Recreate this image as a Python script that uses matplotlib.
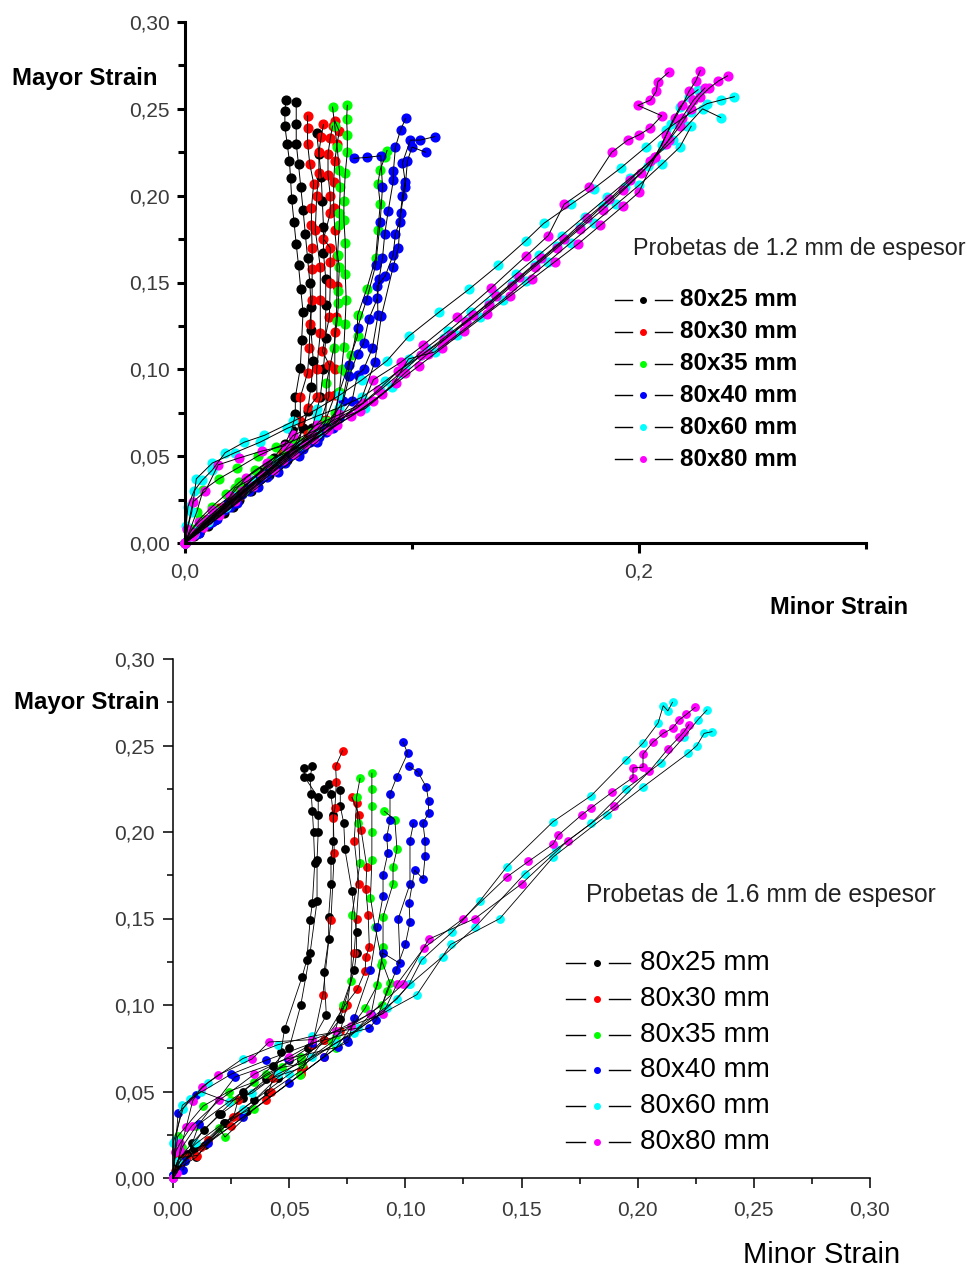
import matplotlib
matplotlib.use('Agg')
import matplotlib.pyplot as plt
from matplotlib.lines import Line2D

plt.rcParams['font.family'] = ['Liberation Sans', 'DejaVu Sans']

W, H = 967, 1269

series_labels = ['80x25 mm', '80x30 mm', '80x35 mm', '80x40 mm', '80x60 mm', '80x80 mm']
series_colors = ['#000000', '#ff0000', '#00ff00', '#0000ff', '#00ffff', '#ff00ff']

# ---------------- top panel (1.2 mm) ----------------
top_25 = [
    [(0, 0), (0.003, 0.005), (0.008, 0.011), (0.014, 0.018), (0.020, 0.025), (0.027, 0.033), (0.033, 0.041),
     (0.039, 0.049), (0.044, 0.057), (0.047, 0.065), (0.0486, 0.074), (0.0486, 0.084), (0.0508, 0.1007),
     (0.0514, 0.117), (0.052, 0.133), (0.051, 0.146), (0.050, 0.160), (0.049, 0.172), (0.048, 0.185),
     (0.047, 0.198), (0.0465, 0.210), (0.046, 0.220), (0.045, 0.230), (0.044, 0.240), (0.044, 0.249), (0.0445, 0.255)],
    [(0, 0), (0.004, 0.004), (0.010, 0.010), (0.017, 0.017), (0.024, 0.025), (0.031, 0.033), (0.038, 0.042),
     (0.044, 0.050), (0.049, 0.058), (0.052, 0.066), (0.054, 0.076), (0.0555, 0.090), (0.0565, 0.105),
     (0.0555, 0.1226), (0.0555, 0.136), (0.055, 0.150), (0.054, 0.164), (0.053, 0.178), (0.052, 0.192),
     (0.051, 0.205), (0.050, 0.218), (0.049, 0.230), (0.049, 0.241), (0.049, 0.254)],
    [(0, 0), (0.006, 0.006), (0.013, 0.013), (0.021, 0.021), (0.029, 0.030), (0.037, 0.039), (0.045, 0.048),
     (0.051, 0.057), (0.056, 0.066), (0.0596, 0.084), (0.061, 0.100), (0.062, 0.118), (0.062, 0.137),
     (0.062, 0.152), (0.061, 0.167), (0.061, 0.182), (0.0605, 0.197), (0.060, 0.211), (0.059, 0.224), (0.058, 0.236)],
]
top_30 = [
    [(0, 0), (0.004, 0.006), (0.009, 0.013), (0.015, 0.020), (0.022, 0.028), (0.029, 0.036), (0.036, 0.044),
     (0.043, 0.052), (0.048, 0.060), (0.0508, 0.070), (0.0508, 0.084), (0.054, 0.098), (0.0548, 0.112),
     (0.055, 0.126), (0.056, 0.140), (0.056, 0.158), (0.056, 0.170), (0.0557, 0.183), (0.0557, 0.193),
     (0.0567, 0.207), (0.055, 0.218), (0.054, 0.230), (0.054, 0.239), (0.054, 0.246)],
    [(0, 0), (0.005, 0.006), (0.012, 0.014), (0.019, 0.022), (0.027, 0.031), (0.035, 0.040), (0.043, 0.049),
     (0.050, 0.058), (0.0544, 0.0778), (0.0581, 0.084), (0.058, 0.100), (0.0596, 0.121), (0.0596, 0.140),
     (0.0596, 0.159), (0.0574, 0.180), (0.058, 0.200), (0.059, 0.213), (0.059, 0.225), (0.060, 0.234), (0.061, 0.241)],
    [(0, 0), (0.006, 0.008), (0.013, 0.016), (0.021, 0.025), (0.030, 0.035), (0.039, 0.045), (0.047, 0.054),
     (0.054, 0.063), (0.060, 0.071), (0.0634, 0.0845), (0.0636, 0.1025), (0.0605, 0.1105), (0.0636, 0.130),
     (0.064, 0.150), (0.064, 0.162), (0.064, 0.170), (0.061, 0.175), (0.064, 0.190), (0.064, 0.200),
     (0.063, 0.212), (0.063, 0.224), (0.064, 0.233), (0.065, 0.240)],
    [(0, 0), (0.007, 0.008), (0.015, 0.017), (0.024, 0.027), (0.033, 0.037), (0.042, 0.047), (0.050, 0.056),
     (0.057, 0.064), (0.062, 0.071), (0.066, 0.085), (0.066, 0.100), (0.066, 0.1215), (0.0667, 0.130),
     (0.067, 0.148), (0.067, 0.165), (0.066, 0.180), (0.0655, 0.193), (0.0655, 0.208), (0.066, 0.220),
     (0.067, 0.230), (0.068, 0.237), (0.066, 0.243)],
]
top_35 = [
    [(0, 0), (0.003, 0.008), (0.0066, 0.014), (0.012, 0.021), (0.018, 0.028), (0.024, 0.035), (0.031, 0.042),
     (0.038, 0.048), (0.046, 0.053), (0.053, 0.0563), (0.058, 0.062), (0.062, 0.070), (0.0623, 0.092),
     (0.0655, 0.112), (0.067, 0.128), (0.0676, 0.138), (0.0675, 0.145), (0.068, 0.159), (0.0672, 0.166),
     (0.068, 0.183), (0.068, 0.190), (0.0684, 0.205), (0.068, 0.215), (0.067, 0.228), (0.066, 0.240), (0.065, 0.251)],
    [(0, 0), (0.0052, 0.018), (0.008, 0.0305), (0.015, 0.037), (0.023, 0.043), (0.032, 0.050), (0.040, 0.055),
     (0.048, 0.059), (0.056, 0.064), (0.062, 0.068), (0.066, 0.075), (0.068, 0.087), (0.069, 0.100),
     (0.070, 0.113), (0.0705, 0.126), (0.071, 0.140), (0.0706, 0.155), (0.0706, 0.173), (0.070, 0.186),
     (0.070, 0.197), (0.0706, 0.213), (0.0715, 0.225), (0.0715, 0.235), (0.0712, 0.244), (0.0715, 0.252)],
    [(0, 0), (0.004, 0.005), (0.010, 0.012), (0.016, 0.019), (0.022, 0.0317), (0.028, 0.036), (0.036, 0.044),
     (0.044, 0.051), (0.052, 0.058), (0.060, 0.064), (0.066, 0.072), (0.068, 0.087), (0.071, 0.0985),
     (0.073, 0.108), (0.076, 0.119), (0.076, 0.131), (0.080, 0.146), (0.084, 0.164), (0.085, 0.180),
     (0.086, 0.195), (0.085, 0.207), (0.086, 0.215), (0.088, 0.222), (0.089, 0.226)],
]
top_40 = [
    [(0, 0), (0.004, 0.005), (0.010, 0.011), (0.017, 0.019), (0.025, 0.028), (0.033, 0.037), (0.041, 0.045),
     (0.049, 0.053), (0.056, 0.060), (0.062, 0.066), (0.0698, 0.082), (0.0724, 0.096), (0.076, 0.109),
     (0.0787, 0.115), (0.081, 0.129), (0.0848, 0.141), (0.0855, 0.152), (0.087, 0.164), (0.088, 0.178),
     (0.0895, 0.191), (0.0918, 0.209), (0.0918, 0.214), (0.0927, 0.228), (0.095, 0.238), (0.0972, 0.2445)],
    [(0, 0), (0.005, 0.005), (0.012, 0.012), (0.020, 0.021), (0.028, 0.030), (0.036, 0.038), (0.044, 0.046),
     (0.052, 0.054), (0.059, 0.061), (0.066, 0.068), (0.0736, 0.082), (0.076, 0.097), (0.0787, 0.100),
     (0.0825, 0.112), (0.085, 0.131), (0.0847, 0.148), (0.0883, 0.154), (0.0917, 0.166), (0.0927, 0.178),
     (0.0945, 0.185), (0.0958, 0.200), (0.097, 0.208), (0.0958, 0.219), (0.0993, 0.232), (0.1037, 0.232), (0.110, 0.234)],
    [(0, 0), (0.006, 0.006), (0.014, 0.014), (0.023, 0.023), (0.032, 0.032), (0.041, 0.041), (0.050, 0.050),
     (0.058, 0.058), (0.065, 0.066), (0.0775, 0.082), (0.0836, 0.104), (0.0865, 0.1305), (0.0917, 0.159),
     (0.094, 0.170), (0.095, 0.190), (0.097, 0.205), (0.098, 0.220), (0.100, 0.228), (0.106, 0.225)],
    [(0, 0), (0.004, 0.006), (0.011, 0.014), (0.019, 0.023), (0.028, 0.032), (0.037, 0.041), (0.046, 0.050),
     (0.055, 0.058), (0.062, 0.064), (0.068, 0.072), (0.0724, 0.1025), (0.076, 0.124), (0.080, 0.140),
     (0.084, 0.160), (0.086, 0.185), (0.087, 0.205), (0.0862, 0.223), (0.080, 0.222), (0.0743, 0.2215)],
]
top_60 = [
    [(0, 0), (0.0005, 0.010), (0.0013, 0.021), (0.004, 0.030), (0.0075, 0.036), (0.012, 0.042), (0.0177, 0.052),
     (0.026, 0.058), (0.035, 0.062), (0.0476, 0.070), (0.058, 0.077), (0.068, 0.085), (0.078, 0.094),
     (0.089, 0.105), (0.0985, 0.119), (0.112, 0.133), (0.125, 0.146), (0.138, 0.160), (0.150, 0.174),
     (0.158, 0.184), (0.170, 0.195), (0.180, 0.204), (0.192, 0.216), (0.203, 0.228), (0.212, 0.238),
     (0.223, 0.248), (0.230, 0.253), (0.236, 0.255), (0.242, 0.257)],
    [(0, 0), (0.001, 0.008), (0.003, 0.018), (0.005, 0.037), (0.012, 0.046), (0.022, 0.052), (0.033, 0.058),
     (0.045, 0.066), (0.058, 0.073), (0.068, 0.078), (0.078, 0.084), (0.088, 0.093), (0.097, 0.102),
     (0.106, 0.112), (0.116, 0.122), (0.126, 0.133), (0.136, 0.144), (0.146, 0.155), (0.156, 0.166),
     (0.166, 0.177), (0.176, 0.188), (0.186, 0.199), (0.196, 0.210), (0.206, 0.221), (0.215, 0.232),
     (0.221, 0.240), (0.228, 0.250), (0.236, 0.245)],
    [(0, 0), (0.004, 0.005), (0.010, 0.012), (0.018, 0.021), (0.026, 0.030), (0.034, 0.039), (0.042, 0.048),
     (0.050, 0.056), (0.058, 0.063), (0.066, 0.070), (0.0795, 0.0775), (0.091, 0.090), (0.0985, 0.106),
     (0.110, 0.110), (0.120, 0.120), (0.130, 0.130), (0.140, 0.140), (0.150, 0.151), (0.160, 0.162),
     (0.170, 0.173), (0.180, 0.184), (0.190, 0.195), (0.200, 0.206), (0.210, 0.218), (0.218, 0.228), (0.223, 0.240)],
    [(0, 0), (0.002, 0.004), (0.006, 0.010), (0.013, 0.018), (0.021, 0.027), (0.029, 0.036), (0.038, 0.045),
     (0.047, 0.054), (0.056, 0.062), (0.066, 0.069), (0.076, 0.078), (0.086, 0.088), (0.095, 0.098),
     (0.104, 0.108), (0.114, 0.118), (0.124, 0.128), (0.134, 0.138), (0.144, 0.149), (0.154, 0.160),
     (0.164, 0.171), (0.174, 0.182), (0.184, 0.194), (0.194, 0.205), (0.204, 0.217), (0.210, 0.229),
     (0.214, 0.241), (0.218, 0.251), (0.222, 0.257), (0.226, 0.261)],
]
top_80 = [
    [(0, 0), (0.001, 0.008), (0.0035, 0.0236), (0.009, 0.030), (0.0146, 0.045), (0.024, 0.049), (0.034, 0.053),
     (0.044, 0.056), (0.0477, 0.062), (0.058, 0.068), (0.068, 0.074), (0.0786, 0.0806), (0.083, 0.094),
     (0.095, 0.104), (0.105, 0.114), (0.120, 0.130), (0.135, 0.147), (0.150, 0.165), (0.160, 0.177),
     (0.167, 0.195), (0.178, 0.205), (0.188, 0.225), (0.195, 0.232), (0.200, 0.235), (0.205, 0.239),
     (0.210, 0.246), (0.1995, 0.252), (0.205, 0.255), (0.2076, 0.260), (0.2083, 0.2656), (0.213, 0.271)],
    [(0, 0), (0.002, 0.006), (0.006, 0.012), (0.012, 0.019), (0.020, 0.027), (0.027, 0.0376), (0.036, 0.046),
     (0.046, 0.055), (0.056, 0.063), (0.066, 0.071), (0.076, 0.078), (0.085, 0.088), (0.094, 0.099),
     (0.104, 0.108), (0.114, 0.117), (0.124, 0.127), (0.134, 0.137), (0.144, 0.148), (0.154, 0.159),
     (0.164, 0.170), (0.174, 0.181), (0.184, 0.192), (0.193, 0.203), (0.201, 0.213), (0.207, 0.222),
     (0.212, 0.235), (0.216, 0.245), (0.219, 0.252), (0.222, 0.260), (0.225, 0.266), (0.227, 0.272)],
    [(0, 0), (0.003, 0.004), (0.008, 0.009), (0.015, 0.016), (0.022, 0.024), (0.030, 0.033), (0.039, 0.042),
     (0.048, 0.051), (0.057, 0.060), (0.067, 0.068), (0.077, 0.076), (0.087, 0.086), (0.097, 0.098),
     (0.107, 0.109), (0.117, 0.120), (0.127, 0.131), (0.137, 0.142), (0.147, 0.153), (0.157, 0.164),
     (0.167, 0.175), (0.177, 0.187), (0.187, 0.198), (0.196, 0.209), (0.205, 0.220), (0.212, 0.230),
     (0.218, 0.240), (0.223, 0.250), (0.227, 0.257), (0.231, 0.262), (0.235, 0.266), (0.239, 0.269)],
    [(0, 0), (0.004, 0.006), (0.010, 0.013), (0.017, 0.021), (0.025, 0.030), (0.034, 0.039), (0.043, 0.048),
     (0.053, 0.057), (0.063, 0.065), (0.073, 0.073), (0.083, 0.082), (0.093, 0.092), (0.103, 0.102),
     (0.113, 0.112), (0.123, 0.122), (0.133, 0.132), (0.143, 0.142), (0.153, 0.152), (0.163, 0.162),
     (0.173, 0.172), (0.183, 0.183), (0.193, 0.194), (0.200, 0.202), (0.207, 0.222), (0.213, 0.232),
     (0.219, 0.245), (0.224, 0.255), (0.229, 0.262)],
]

# ---------------- bottom panel (1.6 mm) ----------------
bot_25 = [
    [(0.001, 0.003), (0.004, 0.013), (0.0092, 0.017), (0.0137, 0.019), (0.022, 0.032), (0.032, 0.039),
     (0.041, 0.049), (0.0465, 0.073), (0.048, 0.086), (0.0555, 0.116), (0.0576, 0.126), (0.059, 0.149),
     (0.060, 0.159), (0.061, 0.182), (0.0605, 0.200), (0.060, 0.212), (0.0595, 0.222), (0.059, 0.232), (0.060, 0.238)],
    [(0.0, 0.001), (0.002, 0.008), (0.006, 0.014), (0.0133, 0.028), (0.0206, 0.037), (0.030, 0.046),
     (0.040, 0.057), (0.050, 0.068), (0.058, 0.075), (0.066, 0.094), (0.065, 0.119), (0.067, 0.138),
     (0.067, 0.151), (0.068, 0.170), (0.068, 0.184), (0.069, 0.195), (0.069, 0.210), (0.068, 0.222),
     (0.067, 0.228), (0.065, 0.225)],
    [(0.0, 0.0), (0.003, 0.006), (0.010, 0.012), (0.0225, 0.032), (0.035, 0.045), (0.045, 0.058),
     (0.055, 0.068), (0.065, 0.080), (0.072, 0.092), (0.078, 0.120), (0.079, 0.130), (0.079, 0.142),
     (0.077, 0.166), (0.074, 0.190), (0.0735, 0.205), (0.072, 0.215), (0.072, 0.224)],
    [(0.0, 0.002), (0.002, 0.010), (0.008, 0.020), (0.020, 0.037), (0.030, 0.050), (0.043, 0.065),
     (0.050, 0.075), (0.055, 0.100), (0.059, 0.130), (0.062, 0.160), (0.062, 0.184), (0.0625, 0.200),
     (0.0625, 0.210), (0.0625, 0.220), (0.0565, 0.232), (0.0565, 0.237)],
]
bot_30 = [
    [(0.0025, 0.0118), (0.0105, 0.013), (0.026, 0.035), (0.028, 0.045), (0.043, 0.058), (0.056, 0.064),
     (0.060, 0.077), (0.0645, 0.106), (0.068, 0.149), (0.0694, 0.188), (0.069, 0.208), (0.0697, 0.214),
     (0.0703, 0.229), (0.070, 0.238), (0.073, 0.247)],
    [(0.001, 0.004), (0.006, 0.012), (0.015, 0.022), (0.028, 0.036), (0.042, 0.050), (0.055, 0.062),
     (0.065, 0.080), (0.073, 0.098), (0.0793, 0.109), (0.0827, 0.1197), (0.083, 0.128), (0.0845, 0.1335),
     (0.084, 0.152), (0.083, 0.167), (0.0834, 0.180), (0.081, 0.201), (0.080, 0.210), (0.077, 0.220)],
    [(0.0, 0.0), (0.004, 0.009), (0.012, 0.018), (0.025, 0.030), (0.040, 0.045), (0.055, 0.060),
     (0.065, 0.070), (0.072, 0.085), (0.075, 0.100), (0.078, 0.130), (0.079, 0.150), (0.080, 0.170),
     (0.078, 0.195), (0.079, 0.217)],
]
bot_35 = [
    [(0.0, 0.002), (0.002, 0.024), (0.013, 0.0416), (0.024, 0.050), (0.035, 0.0555), (0.047, 0.064),
     (0.0555, 0.066), (0.0684, 0.0786), (0.073, 0.100), (0.0766, 0.114), (0.077, 0.152), (0.0805, 0.182),
     (0.0796, 0.205), (0.079, 0.220), (0.0805, 0.231)],
    [(0.0, 0.0), (0.005, 0.010), (0.0198, 0.0289), (0.0224, 0.0237), (0.035, 0.040), (0.0546, 0.0595),
     (0.070, 0.075), (0.0826, 0.098), (0.088, 0.1115), (0.0895, 0.123), (0.0904, 0.1335), (0.0904, 0.151),
     (0.0947, 0.170), (0.0947, 0.180), (0.0964, 0.190), (0.0955, 0.207), (0.091, 0.212)],
    [(0.0, 0.001), (0.004, 0.018), (0.010, 0.030), (0.025, 0.045), (0.040, 0.060), (0.055, 0.070),
     (0.070, 0.082), (0.090, 0.100), (0.092, 0.108), (0.0934, 0.1127), (0.090, 0.125), (0.087, 0.145),
     (0.085, 0.162), (0.0856, 0.184), (0.0856, 0.200), (0.0856, 0.215), (0.0856, 0.225), (0.0856, 0.234)],
]
bot_40 = [
    [(0.0043, 0.0046), (0.0112, 0.0312), (0.0267, 0.0584), (0.0495, 0.069), (0.071, 0.0757), (0.0753, 0.0786),
     (0.078, 0.0925), (0.085, 0.120), (0.088, 0.145), (0.0904, 0.163), (0.0904, 0.175), (0.0925, 0.188),
     (0.092, 0.197), (0.0934, 0.207), (0.0934, 0.222), (0.0964, 0.232), (0.101, 0.2455), (0.099, 0.252)],
    [(0.0, 0.0), (0.0022, 0.0376), (0.010, 0.048), (0.025, 0.060), (0.040, 0.068), (0.060, 0.078),
     (0.0845, 0.0867), (0.0874, 0.0913), (0.096, 0.120), (0.100, 0.135), (0.102, 0.148), (0.1016, 0.159),
     (0.104, 0.178), (0.1076, 0.173), (0.1085, 0.186), (0.1085, 0.195), (0.1076, 0.205), (0.110, 0.211),
     (0.110, 0.218), (0.109, 0.226), (0.1054, 0.2347), (0.1016, 0.238)],
    [(0.0, 0.002), (0.005, 0.010), (0.015, 0.020), (0.030, 0.035), (0.050, 0.055), (0.065, 0.070),
     (0.075, 0.080), (0.0853, 0.095), (0.0904, 0.130), (0.0977, 0.124), (0.097, 0.150), (0.102, 0.170),
     (0.102, 0.195), (0.1035, 0.205)],
]
bot_60 = [
    [(0.0, 0.0), (0.0, 0.020), (0.0043, 0.040), (0.0073, 0.0457), (0.015, 0.055), (0.030, 0.069),
     (0.045, 0.077), (0.060, 0.082), (0.0705, 0.0845), (0.0796, 0.0867), (0.0964, 0.1035), (0.1016, 0.112),
     (0.107, 0.126), (0.120, 0.142), (0.132, 0.160), (0.1437, 0.180), (0.1636, 0.206), (0.180, 0.221),
     (0.195, 0.2416), (0.2023, 0.2514), (0.2088, 0.263), (0.211, 0.273), (0.213, 0.270), (0.215, 0.275)],
    [(0.0, 0.0), (0.001, 0.022), (0.004, 0.042), (0.012, 0.050), (0.024, 0.044), (0.034, 0.049),
     (0.045, 0.060), (0.060, 0.070), (0.078, 0.084), (0.092, 0.098), (0.102, 0.112), (0.116, 0.128),
     (0.130, 0.145), (0.1515, 0.176), (0.165, 0.190), (0.180, 0.205), (0.195, 0.225), (0.210, 0.240),
     (0.220, 0.255), (0.226, 0.265), (0.2298, 0.2705)],
    [(0.0, 0.0), (0.002, 0.010), (0.010, 0.020), (0.030, 0.040), (0.050, 0.060), (0.070, 0.078),
     (0.090, 0.095), (0.105, 0.106), (0.1195, 0.135), (0.1407, 0.150), (0.1636, 0.1855), (0.187, 0.210),
     (0.2023, 0.226), (0.2217, 0.2455), (0.2255, 0.250), (0.2286, 0.257), (0.232, 0.258)],
]
bot_80 = [
    [(0.0, 0.0), (0.0017, 0.003), (0.003, 0.016), (0.0057, 0.0295), (0.0085, 0.0447), (0.0125, 0.0526),
     (0.0194, 0.0595), (0.034, 0.0688), (0.0413, 0.0786), (0.060, 0.080), (0.0766, 0.088), (0.0904, 0.095),
     (0.0964, 0.112), (0.108, 0.133), (0.125, 0.150), (0.1437, 0.174), (0.153, 0.183), (0.1636, 0.193),
     (0.1657, 0.198), (0.176, 0.210), (0.180, 0.214), (0.189, 0.223), (0.198, 0.2315), (0.198, 0.237),
     (0.2023, 0.2375), (0.2023, 0.245), (0.2066, 0.252), (0.211, 0.257), (0.215, 0.260), (0.218, 0.265),
     (0.221, 0.268), (0.2247, 0.272)],
    [(0.0, 0.0), (0.001, 0.015), (0.003, 0.020), (0.008, 0.030), (0.020, 0.045), (0.035, 0.060),
     (0.050, 0.070), (0.070, 0.085), (0.085, 0.095), (0.099, 0.112), (0.110, 0.138), (0.130, 0.150),
     (0.150, 0.170), (0.170, 0.195), (0.190, 0.215), (0.205, 0.235), (0.213, 0.248), (0.218, 0.255),
     (0.220, 0.258), (0.222, 0.262)],
]

top_series = [top_25, top_30, top_35, top_40, top_60, top_80]
bot_series = [bot_25, bot_30, bot_35, bot_40, bot_60, bot_80]

y_ticks = [0.0, 0.05, 0.10, 0.15, 0.20, 0.25, 0.30]
y_ticklabels = ['0,00', '0,05', '0,10', '0,15', '0,20', '0,25', '0,30']
top_xticks = [0.0, 0.2]
top_xticklabels = ['0,0', '0,2']
bot_xticks = [0.0, 0.05, 0.10, 0.15, 0.20, 0.25, 0.30]
bot_xticklabels = ['0,00', '0,05', '0,10', '0,15', '0,20', '0,25', '0,30']

fig = plt.figure(figsize=(W / 100, H / 100), dpi=100)
ax1 = fig.add_axes([185 / W, 1 - 543 / H, 681 / W, 521 / H])
ax2 = fig.add_axes([173 / W, 1 - 1178 / H, 697 / W, 519 / H])


def draw(ax, series, lw, ms):
    for curves, col in zip(series, series_colors):
        for cv in curves:
            xs = [p[0] for p in cv]
            ys = [p[1] for p in cv]
            ax.plot(xs, ys, 'o', color=col, ms=ms, mec=col, zorder=2, clip_on=False)
            ax.plot(xs, ys, '-', color='black', lw=lw, zorder=3, clip_on=False)


draw(ax1, top_series, 0.7, 6.3)
draw(ax2, bot_series, 0.6, 5.3)

tick_color = '#3a3a3a'
for ax, spw in ((ax1, 2.2), (ax2, 1.1)):
    ax.set_xlim(0, 0.3)
    ax.set_ylim(0, 0.3)
    for s in ('top', 'right'):
        ax.spines[s].set_visible(False)
    for s in ('left', 'bottom'):
        ax.spines[s].set_linewidth(spw)
    ax.set_yticks(y_ticks)
    ax.set_yticklabels(y_ticklabels)
    ax.set_yticks([0.025, 0.075, 0.125, 0.175, 0.225, 0.275], minor=True)
    ax.tick_params(axis='both', which='both', direction='out', width=spw, labelsize=15,
                   labelcolor=tick_color)

ax1.set_xticks(top_xticks)
ax1.set_xticklabels(top_xticklabels)
ax1.set_xticks([0.1, 0.3], minor=True)
ax1.tick_params(axis='y', which='major', length=6, pad=5)
ax1.tick_params(axis='y', which='minor', length=5)
ax1.tick_params(axis='x', which='major', length=7, pad=7)
ax1.tick_params(axis='x', which='minor', length=4)

ax2.set_xticks(bot_xticks)
ax2.set_xticklabels(bot_xticklabels)
ax2.set_xticks([0.025, 0.075, 0.125, 0.175, 0.225, 0.275], minor=True)
ax2.tick_params(axis='y', which='major', length=7, pad=6)
ax2.tick_params(axis='y', which='minor', length=4)
ax2.tick_params(axis='x', which='major', length=7, pad=9)
ax2.tick_params(axis='x', which='minor', length=4)

# axis titles
fig.text(12 / W, 1 - 78 / H, 'Mayor Strain', fontsize=17.3, fontweight='bold', ha='left', va='center')
fig.text(908 / W, 1 - 607 / H, 'Minor Strain', fontsize=17, fontweight='bold', ha='right', va='center')
fig.text(14 / W, 1 - 703 / H, 'Mayor Strain', fontsize=17.3, fontweight='bold', ha='left', va='center')
fig.text(900 / W, 1 - 1255 / H, 'Minor Strain', fontsize=21, ha='right', va='center')

fig.text(633 / W, 1 - 248 / H, 'Probetas de 1.2 mm de espesor', fontsize=16.8, color='#222222',
         ha='left', va='center')
fig.text(586 / W, 1 - 895 / H, 'Probetas de 1.6 mm de espesor', fontsize=17.7, color='#222222',
         ha='left', va='center')


def legend(x1a, x1b, xd, x2a, x2b, xt, y0, dy, fs, weight):
    for i, (lab, col) in enumerate(zip(series_labels, series_colors)):
        yf = 1 - (y0 + i * dy) / H
        fig.add_artist(Line2D([x1a / W, x1b / W], [yf, yf], color='black', lw=1.0))
        fig.add_artist(Line2D([x2a / W, x2b / W], [yf, yf], color='black', lw=1.0))
        fig.add_artist(Line2D([xd / W], [yf], marker='o', ms=4, color=col, mec=col, lw=0))
        fig.text(xt / W, yf, lab, fontsize=fs, fontweight=weight, ha='left', va='center')


legend(615, 632, 643, 655, 672, 680, 300, 31.8, 17.5, 'bold')
legend(566, 585, 597, 609, 630, 640, 963, 35.8, 20, 'normal')

fig.savefig('out.png', dpi=100)
